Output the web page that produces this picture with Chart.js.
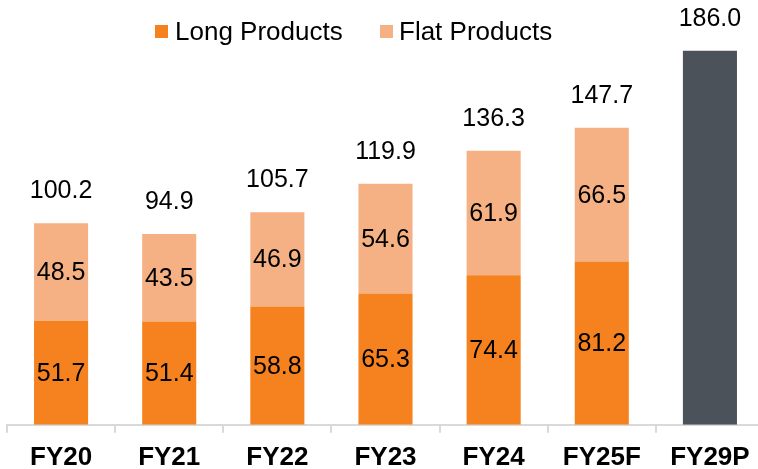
<!DOCTYPE html>
<html>
<head>
<meta charset="utf-8">
<script src="https://cdn.jsdelivr.net/npm/chart.js@4.4.1/dist/chart.umd.min.js"></script>
<style>
  html, body { margin: 0; padding: 0; background: #fff; overflow: hidden; width: 758px; height: 469px; }
  #wrap { position: relative; width: 758px; height: 469px; overflow: hidden; }
  canvas { position: absolute; left: 0; top: 0; }
  .lg { position: absolute; font-family: "Liberation Sans", Arial, sans-serif; font-size: 26px; color: #000; line-height: 26px; }
  .sw { position: absolute; width: 13px; height: 13px; }
</style>
</head>
<body>
<div id="wrap">
  <canvas id="chart" width="770" height="482"></canvas>
  <div class="sw" style="left:155px; top:25px; background:#F5821F;"></div>
  <div class="lg" style="left:175px; top:18px;">Long Products</div>
  <div class="sw" style="left:380px; top:25px; background:#F5B183;"></div>
  <div class="lg" style="left:399px; top:18px;">Flat Products</div>
</div>
<script>
const categories = ['FY20', 'FY21', 'FY22', 'FY23', 'FY24', 'FY25F', 'FY29P'];
const longProducts = [51.7, 51.4, 58.8, 65.3, 74.4, 81.2, null];
const flatProducts = [48.5, 43.5, 46.9, 54.6, 61.9, 66.5, null];
const projected = [null, null, null, null, null, null, 186.0];
const totals = [100.2, 94.9, 105.7, 119.9, 136.3, 147.7, 186.0];

const labelFont = '25px "Liberation Sans", Arial, sans-serif';

// draws the values inside the segments and the totals on top
const valueLabels = {
    id: 'valueLabels',
    afterDatasetsDraw(chart) {
        const ctx = chart.ctx;
        ctx.save();
        ctx.font = labelFont;
        ctx.fillStyle = '#000';
        ctx.textAlign = 'center';
        ctx.textBaseline = 'middle';
        [0, 1].forEach(di => {
            const meta = chart.getDatasetMeta(di);
            meta.data.forEach((bar, i) => {
                const v = chart.data.datasets[di].data[i];
                if (v == null) return;
                ctx.fillText(v.toFixed(1), bar.x, (bar.y + bar.base) / 2 + 1);
            });
        });
        categories.forEach((c, i) => {
            let top = null;
            for (let di = chart.data.datasets.length - 1; di >= 0; di--) {
                if (chart.data.datasets[di].data[i] != null) {
                    top = chart.getDatasetMeta(di).data[i];
                    break;
                }
            }
            if (top) ctx.fillText(totals[i].toFixed(1), top.x, top.y - 32);
        });
        ctx.restore();
    }
};

new Chart(document.getElementById('chart'), {
    type: 'bar',
    data: {
        labels: categories,
        datasets: [
            { label: 'Long Products', data: longProducts, backgroundColor: '#F5821F' },
            { label: 'Flat Products', data: flatProducts, backgroundColor: '#F5B183' },
            { label: 'Projected', data: projected, backgroundColor: '#4B5259' }
        ]
    },
    options: {
        responsive: false,
        devicePixelRatio: 1,
        animation: false,
        categoryPercentage: 1.0,
        barPercentage: 0.5,
        layout: { padding: { left: 7, right: 6, top: 0, bottom: 0 } },
        plugins: { legend: { display: false }, tooltip: { enabled: false } },
        scales: {
            x: {
                stacked: true,
                grid: { display: true, drawOnChartArea: false, color: '#D9D9D9', lineWidth: 2, tickLength: 8, offset: true },
                border: { display: true, color: '#D9D9D9', width: 2 },
                ticks: {
                    color: '#000',
                    padding: 9,
                    font: { family: '"Liberation Sans", Arial, sans-serif', size: 26, weight: 'bold' }
                }
            },
            y: {
                stacked: true,
                display: false,
                min: 0,
                max: 211.3
            }
        }
    },
    plugins: [valueLabels]
});
</script>
</body>
</html>
